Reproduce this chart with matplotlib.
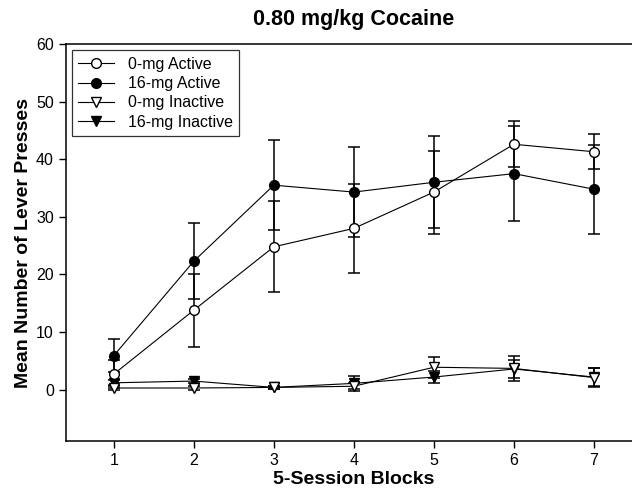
import matplotlib
matplotlib.use("Agg")
import matplotlib.pyplot as plt
from matplotlib.lines import Line2D
import numpy as np

plt.rcParams['font.family'] = ['Liberation Sans', 'DejaVu Sans']

# 5-session blocks
blocks = [1, 2, 3, 4, 5, 6, 7]

# mean lever presses and error bars
active_0mg = [2.7, 13.8, 24.8, 28.0, 34.3, 42.6, 41.3]
active_0mg_err = [2.4, 6.3, 7.9, 7.7, 7.2, 4.0, 3.0]
active_16mg = [5.9, 22.3, 35.5, 34.3, 36.0, 37.5, 34.8]
active_16mg_err = [2.9, 6.6, 7.8, 7.8, 8.0, 8.3, 7.7]
inactive_0mg = [0.3, 0.3, 0.4, 0.6, 3.9, 3.7, 2.1]
inactive_0mg_err = [0.3, 0.3, 0.2, 0.5, 1.8, 2.2, 1.6]
inactive_16mg = [1.2, 1.5, 0.4, 1.1, 2.2, 3.6, 2.2]
inactive_16mg_err = [0.4, 0.4, 0.2, 1.3, 1.0, 1.6, 1.6]

fig = plt.figure(figsize=(6.32, 4.91), dpi=100)
ax = fig.add_axes([65.7/632, 1 - 441/491, (642 - 65.7)/632, (441 - 44)/491])

ebkw = dict(ecolor='black', elinewidth=1.1, capsize=4.5, capthick=1.1, lw=0.8, color='black', ms=7)

series = [
    (inactive_16mg, inactive_16mg_err, 'v', 'black', '16-mg Inactive'),
    (inactive_0mg, inactive_0mg_err, 'v', 'white', '0-mg Inactive'),
    (active_16mg, active_16mg_err, 'o', 'black', '16-mg Active'),
    (active_0mg, active_0mg_err, 'o', 'white', '0-mg Active'),
]
for y, err, m, fc, lab in series:
    ax.errorbar(blocks, y, yerr=err, marker=m, mfc=fc, mec='black', zorder=3, **ebkw)

ax.set_xlim(0.4, 7.6)
ax.set_ylim(-8.9, 60)
ax.set_xticks(blocks)
ax.set_yticks(np.arange(0, 61, 10))
ax.tick_params(direction='out', length=5, width=1, labelsize=11.5, pad=3.5)
for s in ax.spines.values():
    s.set_linewidth(1.1)

ax.set_title('0.80 mg/kg Cocaine', fontsize=15.5, fontweight='bold', pad=14)
ax.set_xlabel('5-Session Blocks', fontsize=14, fontweight='bold', labelpad=2)
ax.set_ylabel('Mean Number of Lever Presses', fontsize=14, fontweight='bold', labelpad=3)

# legend handles: marker on a line, no error bars
handles = [Line2D([], [], color='black', lw=0.8, marker=m, mfc=fc, mec='black', ms=7)
           for _, _, m, fc, _ in series[::-1]]
labels = [lab for *_, lab in series[::-1]]
leg = ax.legend(handles, labels, loc='upper left', fontsize=11.5, frameon=True, fancybox=False,
                edgecolor='black', handlelength=2.2, handletextpad=0.9, labelspacing=0.27,
                borderpad=0.4, borderaxespad=0.4)
leg.get_frame().set_linewidth(0.9)

fig.savefig('out.png', dpi=100)
